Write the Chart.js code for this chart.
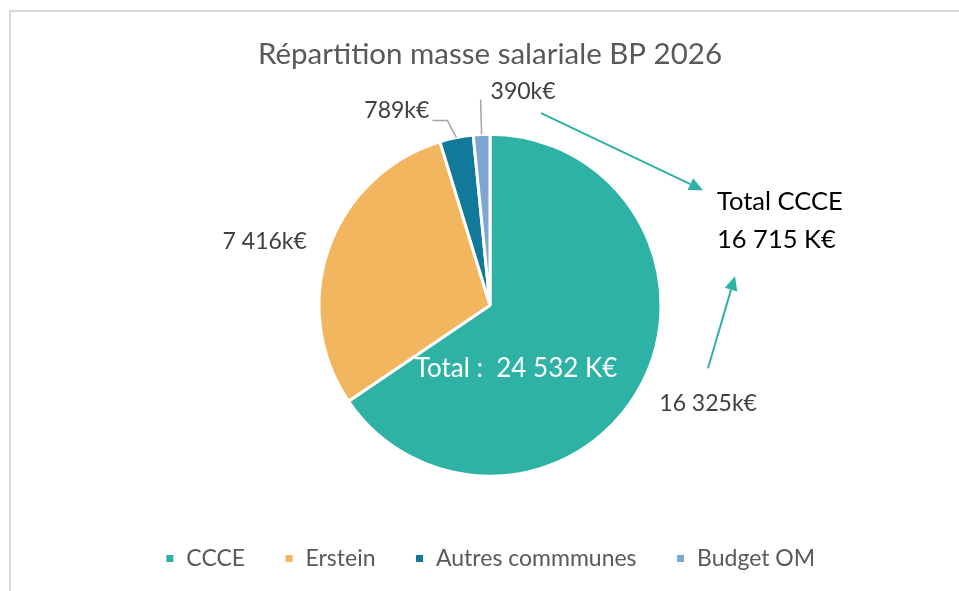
<!DOCTYPE html>
<html>
<head>
<meta charset="utf-8">
<script src="https://cdn.jsdelivr.net/npm/chart.js@4.4.1/dist/chart.umd.min.js"></script>
<style>
  html, body { margin: 0; padding: 0; background: #fff; }
  #wrap { width: 959px; height: 591px; }
</style>
</head>
<body>
<div id="wrap"><canvas id="pieChart" width="959" height="591"></canvas></div>
<script>
// ===== Data =====
const categories = ["CCCE", "Erstein", "Autres commmunes", "Budget OM"];
const values = [16325, 7416, 789, 390];
const valueLabels = ["16 325k€", "7 416k€", "789k€", "390k€"];
const chartTitle = "Répartition masse salariale BP 2026";
const totalLabel = "Total :  24 532 K€";
const calloutLines = ["Total CCCE", "16 715 K€"];

const colors = ["#2eb2a6", "#f2b65f", "#117a9a", "#7fa6d0"];

// label placement relative to the outer edge of each slice
const labelStyle = [
  { dx: 67, dy: 18, align: "center" },
  { dx: -64, dy: -7, align: "center" },
  { dx: -27, dy: -27, align: "right", leader: [[-9, -17], [-24, -17]] },
  { dx: 9, dy: -43, align: "left", leader: [[-1, -35]] }
];

Chart.defaults.font.family = "Lato, 'Open Sans', sans-serif";

// ===== Frame border =====
const framePlugin = {
  id: "frame",
  beforeDraw(chart) {
    const ctx = chart.ctx;
    ctx.save();
    ctx.strokeStyle = "#d9d9d9";
    ctx.lineWidth = 2;
    ctx.beginPath();
    ctx.moveTo(10, chart.height);
    ctx.lineTo(10, 11);
    ctx.lineTo(chart.width, 11);
    ctx.stroke();
    ctx.restore();
  }
};

function drawArrow(ctx, x1, y1, x2, y2) {
  const ang = Math.atan2(y2 - y1, x2 - x1);
  const head = 14, wing = 6.5;
  const bx = x2 - Math.cos(ang) * head, by = y2 - Math.sin(ang) * head;
  ctx.beginPath();
  ctx.moveTo(x1, y1);
  ctx.lineTo(bx, by);
  ctx.stroke();
  ctx.beginPath();
  ctx.moveTo(x2, y2);
  ctx.lineTo(bx - Math.sin(ang) * wing, by + Math.cos(ang) * wing);
  ctx.lineTo(bx + Math.sin(ang) * wing, by - Math.cos(ang) * wing);
  ctx.closePath();
  ctx.fill();
}

// ===== Slice labels, totals, arrows =====
const labelPlugin = {
  id: "sliceLabels",
  afterDatasetsDraw(chart) {
    const ctx = chart.ctx;
    const arcs = chart.getDatasetMeta(0).data;
    ctx.save();
    arcs.forEach((arc, i) => {
      const p = arc.getProps(["x", "y", "startAngle", "endAngle", "outerRadius"], true);
      const mid = (p.startAngle + p.endAngle) / 2;
      const ex = p.x + Math.cos(mid) * p.outerRadius;
      const ey = p.y + Math.sin(mid) * p.outerRadius;
      const st = labelStyle[i];
      if (st.leader) {
        ctx.strokeStyle = "#a6a6a6";
        ctx.lineWidth = 1.5;
        ctx.beginPath();
        ctx.moveTo(ex, ey);
        st.leader.forEach(pt => ctx.lineTo(ex + pt[0], ey + pt[1]));
        ctx.stroke();
      }
      ctx.font = "23px Lato";
      ctx.fillStyle = "#404040";
      ctx.textAlign = st.align;
      ctx.textBaseline = "middle";
      ctx.fillText(valueLabels[i], ex + st.dx, ey + st.dy);
    });

    const cx = arcs[0].x, cy = arcs[0].y;

    // total inside the pie
    ctx.font = "26px Lato";
    ctx.fillStyle = "#ffffff";
    ctx.textAlign = "center";
    ctx.textBaseline = "middle";
    ctx.fillText(totalLabel, cx + 26, cy + 63);

    // callout on the right
    ctx.font = "25.5px Lato";
    ctx.fillStyle = "#000000";
    ctx.textAlign = "left";
    ctx.fillText(calloutLines[0], cx + 227, cy - 103);
    ctx.fillText(calloutLines[1], cx + 227, cy - 65);

    ctx.strokeStyle = colors[0];
    ctx.fillStyle = colors[0];
    ctx.lineWidth = 2;
    drawArrow(ctx, cx + 51, cy - 192, cx + 213, cy - 115);
    drawArrow(ctx, cx + 218, cy + 63, cx + 245, cy - 29);
    ctx.restore();
  }
};

// ===== Chart =====
const ctx1 = document.getElementById("pieChart").getContext("2d");
new Chart(ctx1, {
  type: "pie",
  data: {
    labels: categories,
    datasets: [{
      data: values,
      backgroundColor: colors,
      borderColor: "#ffffff",
      borderWidth: 3,
      radius: 171
    }]
  },
  options: {
    responsive: false,
    animation: false,
    layout: { padding: { left: 21, right: 0, top: 0, bottom: 11 } },
    plugins: {
      tooltip: { enabled: false },
      title: {
        display: true,
        text: chartTitle,
        color: "#595959",
        font: { size: 29.5, weight: "normal" },
        padding: { top: 37, bottom: 30 }
      },
      legend: {
        position: "bottom",
        labels: {
          boxWidth: 10,
          boxHeight: 10,
          padding: 39,
          color: "#595959",
          font: { size: 23 }
        }
      }
    }
  },
  plugins: [framePlugin, labelPlugin]
});
</script>
</body>
</html>
